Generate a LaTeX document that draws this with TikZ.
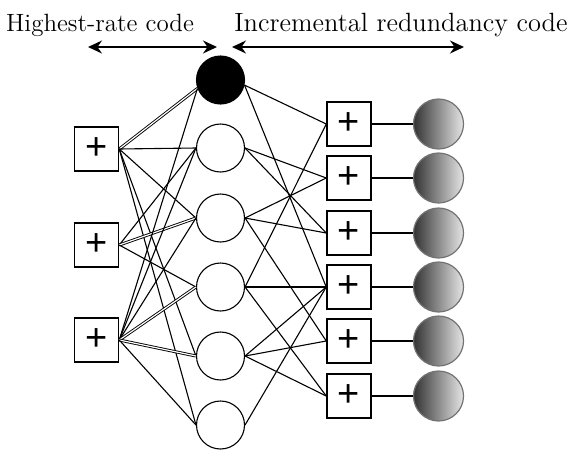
\documentclass[tikz,border=0pt]{standalone}
\usepackage{fontspec}
\newfontfamily\plusfont{Liberation Sans}
\usetikzlibrary{arrows.meta}
\begin{document}
\begin{tikzpicture}[x=0.5pt,y=-0.5pt,
  chk/.style={draw, line width=0.75pt, minimum size=22pt, inner sep=0pt,
    font=\plusfont\fontsize{19}{19}\selectfont},
  var/.style={draw, circle, line width=0.55pt, minimum size=24pt, inner sep=0pt},
  pvar/.style={var, fill=black},
  ext/.style={circle, draw=black!55, line width=0.6pt, minimum size=25pt, inner sep=0pt,
    left color=black!80, right color=black!10},
  lnk/.style={line width=0.55pt},
  dlnk/.style={double, double distance=0.6pt, line width=0.45pt},
  span/.style={line width=0.8pt, {Stealth[length=7pt,width=6.5pt]}-{Stealth[length=7pt,width=6.5pt]}},
  lbl/.style={anchor=base, inner sep=0pt}]
\useasboundingbox (0,0) rectangle (577,450);
% labels and span arrows
\node[lbl, font=\fontsize{12.5}{15}\selectfont] (t1) at (100,31) {Highest-rate code};
\node[lbl, font=\fontsize{13.2}{15}\selectfont] (t2) at (401,31) {Incremental redundancy code};
\coordinate (a1) at (88,47);
\coordinate (a2) at (217,47);
\coordinate (b1) at (232,47);
\coordinate (b2) at (464,47);
\draw[span] (a1) -- (a2);
\draw[span] (b1) -- (b2);
% left check nodes
\node[chk] (L1) at (96.5,149) {+};
\node[chk] (L2) at (96.5,245) {+};
\node[chk] (L3) at (96.5,340) {+};
% variable nodes
\node[pvar] (C1) at (220.5,80) {};
\node[var] (C2) at (220.5,148) {};
\node[var] (C3) at (220.5,218) {};
\node[var] (C4) at (220.5,287) {};
\node[var] (C5) at (220.5,356) {};
\node[var] (C6) at (220.5,425) {};
% right check nodes
\foreach \i/\y in {1/124,2/178,3/233,4/287,5/341,6/396}{
  \node[chk] (R\i) at (349,\y) {+};
  \node[ext] (G\i) at (438.5,\y) {};
  \draw[lnk] (R\i.east) -- (G\i.west);
}
% left edges
\draw[dlnk] (L1.east) -- (C1.200);
\draw[lnk] (L1.east) -- (C2.west);
\draw[lnk] (L1.east) -- (C3.west);
\draw[lnk] (L1.east) -- (C5.west);
\draw[lnk] (L1.east) -- (C6.west);
\draw[lnk] (L2.east) -- (C2.west);
\draw[dlnk] (L2.east) -- (C3.west);
\draw[lnk] (L2.east) -- (C4.west);
\draw[lnk] (L3.east) -- (C1.200);
\draw[lnk] (L3.east) -- (C2.west);
\draw[lnk] (L3.east) -- (C3.west);
\draw[dlnk] (L3.east) -- (C4.west);
\draw[dlnk] (L3.east) -- (C5.west);
\draw[lnk] (L3.east) -- (C6.west);
% right edges
\draw[lnk] (C1.-12) -- (R1.west);
\draw[lnk] (C1.-12) -- (R4.west);
\draw[lnk] (C2.east) -- (R2.west);
\draw[lnk] (C2.east) -- (R3.west);
\draw[lnk] (C3.east) -- (R2.west);
\draw[lnk] (C3.east) -- (R3.west);
\draw[lnk] (C3.east) -- (R5.west);
\draw[lnk] (C4.east) -- (R1.west);
\draw[lnk] (C4.east) -- (R4.west);
\draw[lnk] (C4.east) -- (R6.west);
\draw[lnk] (C5.east) -- (R4.west);
\draw[lnk] (C5.east) -- (R5.west);
\draw[lnk] (C5.east) -- (R6.west);
\draw[lnk] (C6.east) -- (R4.west);
\end{tikzpicture}
\end{document}
